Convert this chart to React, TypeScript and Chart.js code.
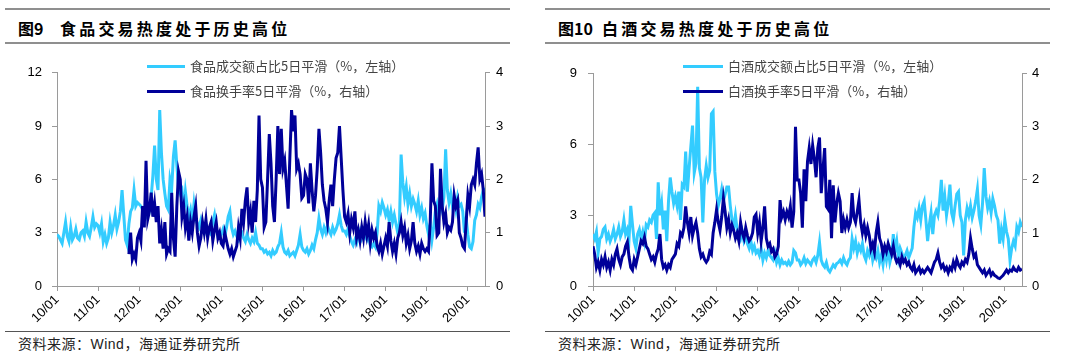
import React, { useEffect, useRef } from 'react';
import { Chart, registerables } from 'chart.js';

Chart.register(...registerables);

// ---- tick labels (one per year, 24 half-month points per year) ----
const yearLabels = ['10/01', '11/01', '12/01', '13/01', '14/01', '15/01', '16/01', '17/01', '18/01', '19/01', '20/01'];
const POINTS_PER_YEAR = 24;

// ---- 图9 食品 ----
// 食品成交额占比5日平滑（%，左轴）, half-monthly from 2010-01
const foodShare = [
  2.9, 2.8, 2.6, 2.4, 3.0, 3.6, 2.8, 2.5, 3.3, 2.6, 2.8, 3.2, 2.7, 2.6, 3.0, 3.1, 2.8, 3.6, 3.0, 2.8, 3.3, 3.9, 3.3, 3.5,
  3.4, 3.0, 3.5, 2.5, 2.9, 2.4, 2.7, 3.6, 3.0, 3.4, 4.0, 3.2, 3.6, 4.2, 5.4, 4.0, 2.6, 2.3, 3.5, 4.2, 4.4, 5.4, 4.5, 4.7,
  4.6, 4.5, 4.3, 4.2, 4.0, 4.6, 4.3, 5.0, 6.2, 7.9, 6.0, 5.4, 9.9, 7.5, 6.0, 5.2, 4.5, 4.3, 6.0, 5.5, 7.3, 8.2, 6.8, 5.5,
  5.2, 5.4, 4.2, 5.3, 4.5, 3.9, 4.3, 3.6, 4.6, 3.8, 3.5, 3.3, 3.7, 3.2, 3.0, 3.5, 3.1, 3.0, 2.9, 3.6, 4.0, 3.3, 2.8, 3.0,
  2.9, 3.2, 2.8, 3.3, 3.9, 4.2, 3.3, 2.9, 3.1, 2.8, 2.6, 2.9, 3.0, 2.7, 2.5, 2.9, 2.6, 2.4, 2.7, 2.5, 3.0, 2.4, 2.3, 2.1,
  2.1, 1.9, 2.0, 1.8, 1.9, 1.7, 2.0, 1.8, 1.9, 2.2, 2.4, 3.0, 2.2, 1.9, 1.8, 2.0, 1.7, 1.8, 1.9, 1.7, 2.0, 2.3, 2.9, 2.2,
  2.0, 1.9, 2.1, 1.8, 2.0, 2.3, 2.1, 2.6, 3.0, 3.8, 3.2, 2.9, 3.3, 3.0, 3.4, 3.1, 2.9, 3.3, 3.0, 3.2, 3.5, 4.0, 3.4, 3.1,
  3.1, 2.9, 3.2, 2.8, 2.5, 2.3, 2.6, 2.4, 2.8, 3.1, 2.7, 3.0, 2.8, 2.6, 2.9, 2.3, 2.2, 2.4, 2.2, 3.0, 4.5, 4.2, 4.7, 4.4,
  4.0, 4.3, 3.7, 4.2, 3.6, 4.0, 3.5, 3.0, 3.5, 7.4, 5.8, 5.0, 5.6, 4.6, 5.2, 4.5, 4.9, 4.6, 4.2, 4.8, 4.0, 4.4, 3.8, 4.1,
  3.4, 2.9, 3.5, 2.6, 3.3, 4.2, 4.6, 4.0, 4.8, 4.3, 5.0, 7.7, 5.4, 4.7, 5.2, 4.5, 4.9, 4.3, 5.0, 4.5, 4.6, 4.2, 3.0, 3.8,
  2.9, 2.2, 2.1, 2.5, 3.7, 4.0, 4.6, 4.4, 5.0, 5.4, 5.5,
];
// 食品换手率5日平滑（%，右轴）, starts late 2011
const FOOD_TURNOVER_START = 42;
const foodTurnover = [
  0.6, 1.0, 0.5, 0.6, 0.5, 0.9,
  1.0, 0.85, 1.5, 1.1, 2.35, 1.25, 1.4, 1.75, 1.3, 1.55, 1.2, 1.5, 0.8, 1.05, 0.7, 1.2, 0.6, 0.7, 0.65, 1.75, 0.9, 0.55, 1.5, 2.15,
  2.0, 1.3, 1.5, 1.1, 1.3, 0.85, 1.2, 1.0, 1.3, 1.5, 1.0, 0.75, 0.9, 1.2, 1.0, 1.25, 0.9, 1.1, 1.2, 0.85, 1.05, 1.2, 0.9, 1.0,
  0.8, 0.75, 1.0, 0.85, 0.7, 0.6, 0.7, 0.55, 0.65, 0.75, 1.1, 0.9, 1.45, 1.2, 1.6, 1.85, 1.2, 1.4, 1.0, 1.6, 1.2, 1.8, 3.2, 2.0,
  1.85, 1.1, 1.2, 2.0, 2.85, 2.3, 1.5, 1.2, 2.0, 3.0, 2.1, 2.95, 2.2, 2.35, 1.9, 1.45, 2.4, 3.3, 2.9, 3.2, 2.2, 2.3, 2.1, 1.65,
  1.7, 2.1, 2.0, 1.55, 2.3, 1.8, 1.4, 1.7, 2.2, 2.95, 2.5, 1.9, 1.6, 1.45, 1.2, 1.6, 1.9, 1.5, 2.0, 2.4, 2.5, 3.0, 2.4, 1.8,
  1.3, 1.2, 1.35, 1.0, 1.25, 1.1, 1.4, 0.9, 1.05, 0.85, 1.1, 0.9, 1.2, 0.95, 1.15, 0.8, 1.05, 0.9, 1.0, 0.75, 0.65, 0.8, 0.6, 0.75,
  0.9, 0.75, 1.2, 0.85, 0.65, 0.8, 0.6, 0.9, 1.0, 1.2, 0.95, 1.1, 0.8, 0.95, 0.7, 0.85, 1.2, 0.8, 0.65, 0.75, 0.6, 0.8, 0.7, 0.65,
  0.7, 0.65, 1.2, 2.3, 1.6, 1.5, 0.95, 1.0, 2.2, 1.5, 1.2, 1.35, 1.0, 1.1, 1.05, 1.2, 1.7, 1.5, 1.6, 1.0, 0.9, 0.75, 0.7, 1.2,
  1.7, 1.5, 1.9, 2.0, 1.9, 2.3, 2.6, 2.0, 2.1, 1.8, 1.3,
];

// ---- 图10 白酒 ----
// 白酒成交额占比5日平滑（%，左轴）
const liquorShare = [
  2.2, 2.0, 2.3, 1.4, 2.0, 2.1, 2.4, 2.5, 2.0, 2.2, 1.9, 2.1, 2.4, 2.0, 2.2, 2.5, 2.1, 2.3, 2.8, 2.2, 2.4, 2.0, 3.4, 2.6,
  1.9, 1.6, 2.2, 2.4, 2.0, 2.3, 1.9, 2.6, 2.5, 2.8, 2.7, 3.0, 3.1, 2.0, 4.4, 3.0, 3.5, 2.4, 3.2, 1.9, 3.6, 4.6, 4.0, 3.5,
  3.8, 3.4, 4.0, 2.8, 4.3, 4.2, 5.7, 4.0, 5.0, 5.9, 6.8, 4.8, 5.2, 8.45, 5.0, 4.6, 2.7, 4.5, 5.1, 4.6, 4.9, 7.3, 7.4, 4.85,
  3.9, 3.4, 3.7, 4.1, 3.6, 3.9, 4.2, 4.2, 3.4, 2.8, 2.5, 3.0, 2.4, 2.2, 2.0, 2.3, 1.9, 2.1, 1.8, 1.6, 1.9, 1.5, 1.7, 1.4,
  1.5, 1.3, 1.6, 1.1, 1.4, 1.2, 1.5, 1.3, 1.2, 1.1, 1.4, 1.0, 1.2, 0.9, 1.1, 0.95, 1.0, 0.9, 1.05, 0.9, 1.0, 1.5, 1.4, 1.1,
  1.1, 0.9, 1.0, 1.2, 0.95, 1.1, 1.0, 0.9, 1.1, 1.2, 1.0, 1.3, 1.85, 1.1, 0.9, 0.8, 1.0, 0.7, 0.6, 0.75, 0.9, 0.8, 0.95, 1.0,
  1.1, 0.95, 1.2, 1.0, 0.9, 1.1, 1.2, 2.0, 1.6, 1.9, 1.4, 1.7, 1.5, 1.8, 1.3, 1.1, 1.5, 1.3, 1.6, 1.1, 1.4, 1.2, 1.5, 1.0,
  1.3, 0.9, 1.5, 1.1, 1.6, 1.0, 1.3, 2.2, 1.5, 1.9, 1.2, 1.6, 1.4, 1.1, 1.3, 1.5, 1.2, 1.4, 1.6, 2.5, 3.1, 2.9, 3.3, 2.8,
  3.4, 3.6, 2.8, 1.9, 2.6, 3.1, 2.2, 3.0, 3.2, 3.0, 3.6, 4.5, 3.2, 3.8, 3.0, 3.5, 4.3, 3.1, 2.8, 3.4, 3.9, 4.0, 3.0, 2.7,
  1.3, 2.8, 3.3, 3.0, 3.4, 2.9, 3.2, 3.6, 4.1, 3.0, 2.6, 3.5, 5.0, 3.8, 3.3, 3.6, 3.1, 3.7, 3.4, 3.0, 2.8, 1.8, 2.4, 2.0,
  2.8, 2.3, 2.0, 1.1, 1.6, 1.9, 1.7, 2.5, 2.3, 2.7, 2.5,
];
// 白酒换手率5日平滑（%，右轴）
const LIQUOR_TURNOVER_START = 0;
const liquorTurnover = [
  0.75, 0.6, 0.35, 0.45, 0.3, 0.5, 0.4, 0.55, 0.35, 0.45, 0.3, 0.5, 0.4, 0.6, 0.7, 0.5, 0.4, 0.55, 0.6, 0.75, 0.83, 0.55, 0.35, 0.3,
  0.5, 0.4, 0.55, 0.7, 0.85, 0.8, 0.92, 0.75, 0.7, 0.6, 0.5, 0.55, 0.45, 0.6, 0.7, 0.98, 0.5, 0.35, 0.4, 0.3, 0.4, 0.35, 0.5, 0.55,
  0.6, 0.8, 0.75, 1.0, 0.95, 1.1, 1.5, 1.2, 1.0, 1.3, 0.95, 1.1, 1.2, 1.0, 0.7, 0.55, 0.6, 0.5, 0.45, 0.5, 0.65, 0.6, 1.0, 1.2,
  1.44, 1.2, 1.05, 1.3, 1.65, 1.4, 1.1, 1.25, 1.0, 1.15, 1.05, 0.9, 1.0, 0.85, 1.2, 1.0, 0.9, 1.1, 0.95, 0.85, 0.9, 1.0, 1.3, 1.35,
  1.0, 1.2, 0.85, 1.1, 1.5, 0.9, 0.75, 0.8, 0.65, 0.7, 0.55, 0.6, 0.75, 1.62, 1.3, 1.4, 1.25, 1.4, 1.3, 1.5, 1.1, 1.4, 3.0, 2.0,
  2.0, 1.75, 1.1, 2.2, 1.6, 2.35, 2.6, 2.3, 2.65, 2.4, 2.05, 2.6, 2.8, 1.75, 2.2, 2.6, 1.5, 1.45, 2.0, 0.9, 1.9, 1.2, 1.55, 1.75,
  1.6, 1.0, 1.25, 1.1, 1.25, 1.1, 1.2, 1.75, 1.3, 1.2, 1.4, 1.62, 1.2, 1.0, 1.15, 0.95, 1.1, 0.95, 0.7, 0.8, 0.65, 1.0, 1.2, 0.9,
  0.8, 0.6, 0.75, 0.65, 0.8, 0.7, 0.6, 0.75, 0.55, 0.45, 0.5, 0.4, 0.55, 0.45, 0.5, 0.4, 0.45, 0.35, 0.3, 0.4, 0.25, 0.3, 0.35, 0.25,
  0.3, 0.25, 0.3, 0.35, 0.3, 0.25, 0.35, 0.45, 0.5, 0.62, 0.45, 0.35, 0.4, 0.3, 0.35, 0.25, 0.35, 0.3, 0.45, 0.35, 0.5, 0.4, 0.35, 0.45,
  0.4, 0.5, 0.45, 0.6, 0.9, 0.7, 0.55, 0.6, 0.4, 0.35, 0.3, 0.25, 0.3, 0.2, 0.25, 0.3, 0.2, 0.25, 0.2, 0.18, 0.15, 0.14, 0.17, 0.2,
  0.25, 0.3, 0.25, 0.3, 0.28, 0.35, 0.3, 0.28, 0.35, 0.3, 0.32,
];

const LIGHT = '#33CCFF';
const DARK = '#000099';
const AXIS = '#9a9a9a';
const TICK_FONT = 'Liberation Sans, Arial, sans-serif';
const CJK_FONT = '"Noto Sans CJK SC", "Noto Sans", sans-serif';

function toPoints(values: number[], start: number) {
  return values.map((v, i) => ({ x: start + i, y: v }));
}

function makeConfig(
  share: number[],
  turnover: number[],
  turnoverStart: number,
  leftMax: number,
  leftWidth: number,
  rightWidth: number,
  leftPad: number,
  rightPad: number
): any {
  const lastIndex = share.length - 1;
  return {
    type: 'line',
    data: {
      datasets: [
        {
          data: toPoints(share, 0),
          yAxisID: 'yL',
          borderColor: LIGHT,
          borderWidth: 3,
          pointRadius: 0,
          tension: 0,
          order: 1,
        },
        {
          data: toPoints(turnover, turnoverStart),
          yAxisID: 'yR',
          borderColor: DARK,
          borderWidth: 3,
          pointRadius: 0,
          tension: 0,
          order: 0,
        },
      ],
    },
    options: {
      responsive: false,
      maintainAspectRatio: false,
      animation: false,
      events: [],
      layout: { padding: { top: 10, left: 0, right: 0, bottom: 0 } },
      plugins: { legend: { display: false }, tooltip: { enabled: false } },
      scales: {
        x: {
          type: 'linear',
          min: 0,
          max: lastIndex,
          afterBuildTicks: (scale: any) => {
            scale.ticks = yearLabels.map((_, k) => ({ value: k * POINTS_PER_YEAR }));
          },
          afterFit: (scale: any) => {
            scale.height = 44;
          },
          grid: { display: true, drawOnChartArea: false, drawTicks: true, tickLength: 5, color: AXIS },
          border: { display: true, color: AXIS, width: 1 },
          ticks: {
            autoSkip: false,
            minRotation: 45,
            maxRotation: 45,
            padding: 1,
            color: '#000',
            font: { family: TICK_FONT, size: 13 },
            callback: (value: number) => yearLabels[Math.round(value / POINTS_PER_YEAR)],
          },
        },
        yL: {
          type: 'linear',
          position: 'left',
          min: 0,
          max: leftMax,
          afterFit: (scale: any) => {
            scale.width = leftWidth;
          },
          grid: { display: true, drawOnChartArea: false, drawTicks: true, tickLength: 5, color: AXIS },
          border: { display: true, color: AXIS, width: 1 },
          ticks: { stepSize: 3, padding: leftPad, color: '#000', font: { family: TICK_FONT, size: 13 } },
        },
        yR: {
          type: 'linear',
          position: 'right',
          min: 0,
          max: 4,
          afterFit: (scale: any) => {
            scale.width = rightWidth;
          },
          grid: { display: true, drawOnChartArea: false, drawTicks: true, tickLength: 5, color: AXIS },
          border: { display: true, color: AXIS, width: 1 },
          ticks: { stepSize: 1, padding: rightPad, color: '#000', font: { family: TICK_FONT, size: 13 } },
        },
      },
    },
  };
}

type PanelProps = {
  left: number;
  figNo: string;
  figNoWidthLeft: number;
  titleLeft: number;
  title: string;
  legend1: string;
  legend2: string;
  legendLineLeft: number;
  legendLineWidth: number;
  canvasRef: React.RefObject<HTMLCanvasElement | null>;
};

function Panel(p: PanelProps) {
  const abs = (s: React.CSSProperties): React.CSSProperties => ({ position: 'absolute', ...s });
  return (
    <>
      <div style={abs({ left: p.left + 5, top: 8, width: 505, height: 2, background: '#8f8f8f' })} />
      <div
        style={abs({
          left: p.left + p.figNoWidthLeft,
          top: 17,
          height: 22,
          lineHeight: '22px',
          fontFamily: CJK_FONT,
          fontWeight: 700,
          fontSize: 16,
          color: '#000',
          whiteSpace: 'nowrap',
        })}
      >
        {p.figNo}
      </div>
      <div
        style={abs({
          left: p.left + p.titleLeft,
          top: 17,
          height: 22,
          lineHeight: '22px',
          fontFamily: CJK_FONT,
          fontWeight: 700,
          fontSize: 16,
          letterSpacing: '3.2px',
          color: '#000',
          whiteSpace: 'nowrap',
        })}
      >
        {p.title}
      </div>
      <div style={abs({ left: p.left + 5, top: 42, width: 505, height: 2, background: '#8f8f8f' })} />

      <canvas
        ref={p.canvasRef}
        width={540}
        height={275}
        style={abs({ left: p.left, top: 55, width: 540, height: 275 })}
      />

      {[p.legend1, p.legend2].map((t, k) => (
        <React.Fragment key={k}>
          <div
            style={abs({
              left: p.left + p.legendLineLeft,
              top: (k === 0 ? 66 : 91) - 1.5,
              width: p.legendLineWidth,
              height: 3,
              background: k === 0 ? LIGHT : DARK,
            })}
          />
          <div
            style={abs({
              left: p.left + p.legendLineLeft + p.legendLineWidth + 5,
              top: (k === 0 ? 66 : 91) - 9,
              height: 18,
              lineHeight: '18px',
              fontFamily: CJK_FONT,
              fontSize: 13,
              color: '#444',
              whiteSpace: 'nowrap',
            })}
          >
            {t}
          </div>
        </React.Fragment>
      ))}

      <div style={abs({ left: p.left + 5, top: 331, width: 505, height: 1, background: '#555' })} />
      <div
        style={abs({
          left: p.left + 18,
          top: 334,
          height: 18,
          lineHeight: '18px',
          fontFamily: CJK_FONT,
          fontSize: 14,
          letterSpacing: '0.5px',
          color: '#222',
          whiteSpace: 'nowrap',
        })}
      >
        资料来源：<span style={{ fontFamily: TICK_FONT }}>Wind</span>，海通证券研究所
      </div>
    </>
  );
}

export default function App() {
  const leftRef = useRef<HTMLCanvasElement | null>(null);
  const rightRef = useRef<HTMLCanvasElement | null>(null);

  useEffect(() => {
    const charts: Chart[] = [];
    if (leftRef.current) {
      charts.push(
        new Chart(
          leftRef.current,
          makeConfig(foodShare, foodTurnover, FOOD_TURNOVER_START, 12, 57, 55, 10, 6)
        )
      );
    }
    if (rightRef.current) {
      charts.push(
        new Chart(
          rightRef.current,
          makeConfig(liquorShare, liquorTurnover, LIQUOR_TURNOVER_START, 9, 53, 58, 11, 5)
        )
      );
    }
    return () => charts.forEach((c) => c.destroy());
  }, []);

  return (
    <div
      style={{
        position: 'absolute',
        left: 0,
        top: 0,
        width: 1080,
        height: 359,
        overflow: 'hidden',
        background: '#fff',
      }}
    >
      <Panel
        left={0}
        figNo="图9"
        figNoWidthLeft={18}
        titleLeft={60}
        title="食品交易热度处于历史高位"
        legend1="食品成交额占比5日平滑（%，左轴）"
        legend2="食品换手率5日平滑（%，右轴）"
        legendLineLeft={147}
        legendLineWidth={38}
        canvasRef={leftRef}
      />
      <Panel
        left={540}
        figNo="图10"
        figNoWidthLeft={18}
        titleLeft={62}
        title="白酒交易热度处于历史高位"
        legend1="白酒成交额占比5日平滑（%，左轴）"
        legend2="白酒换手率5日平滑（%，右轴）"
        legendLineLeft={143}
        legendLineWidth={40}
        canvasRef={rightRef}
      />
    </div>
  );
}
